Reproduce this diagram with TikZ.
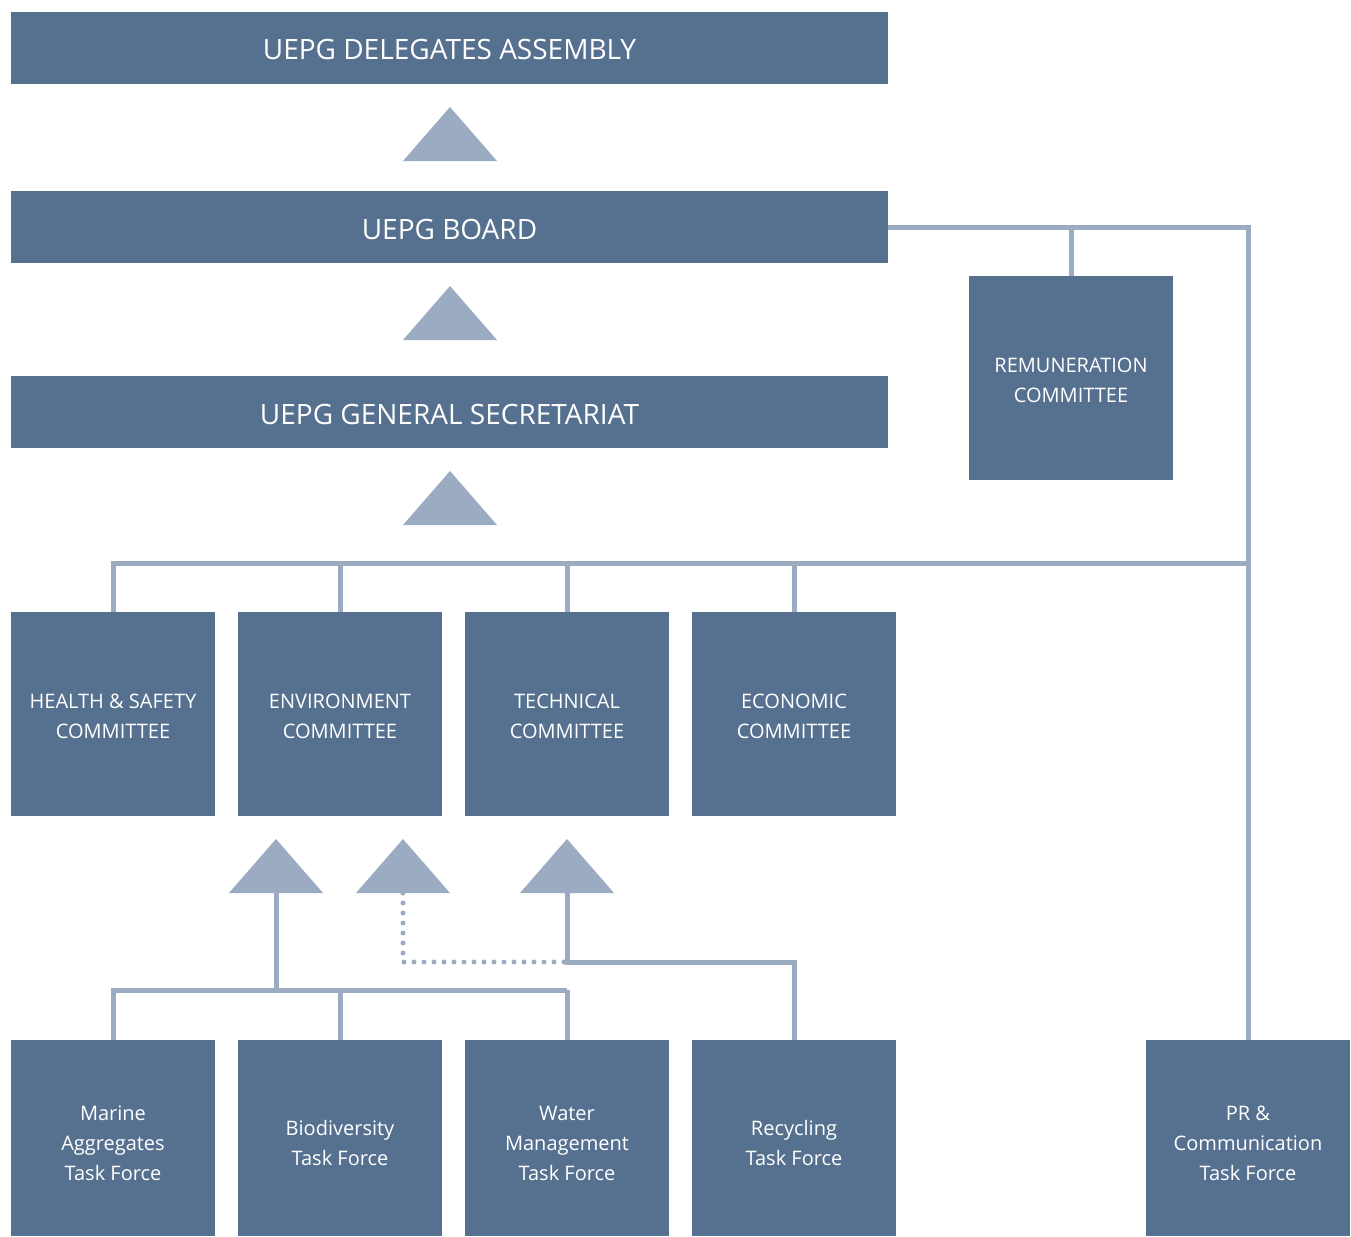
\documentclass[tikz,border=0pt]{standalone}
\usepackage{fontspec}
\setmainfont{Open Sans}
\usetikzlibrary{positioning}
\definecolor{boxblue}{HTML}{56718F}
\definecolor{linkblue}{HTML}{9BACC2}
\tikzset{
  bar/.style={fill=boxblue, text=white, minimum width=877pt, minimum height=72pt, inner sep=0pt,
    text height=24pt, text depth=0pt, font=\fontsize{28}{32}\selectfont},
  unit/.style={fill=boxblue, minimum width=204pt, minimum height=204pt, inner sep=0pt},
  task/.style={unit, minimum height=196pt},
  caption/.style={text=white, align=center, inner sep=0pt, font=\fontsize{20}{30}\selectfont},
  unitcap/.style={caption, yshift=-2pt},
  taskcap/.style={caption, yshift=-5pt},
  link/.style={draw=linkblue, line width=5pt},
  dots/.style={draw=linkblue, line width=5pt, line cap=round, dash pattern=on 0pt off 10pt},
  tri/.style={fill=linkblue}
}
% triangle pointing up: name, apex x, apex y
\newcommand{\uptri}[3]{%
  \fill[tri] (#2-47,#3+54) -- (#2,#3) -- (#2+47,#3+54) -- cycle;
  \coordinate (#1) at (#2,#3+54);}
\begin{document}
\begin{tikzpicture}[x=1pt, y=-1pt]
\useasboundingbox (0,0) rectangle (1351,1236);

% Top levels
\node[bar] (assembly) at (449.5,48) {UEPG DELEGATES ASSEMBLY};
\node[bar] (board) at (449.5,227) {UEPG BOARD};
\node[bar] (secretariat) at (449.5,412) {UEPG GENERAL SECRETARIAT};

\uptri{tria}{450}{107}
\uptri{trib}{450}{286}
\uptri{tric}{450}{471}

% Remuneration
\node[unit, label={[unitcap]center:{REMUNERATION\\COMMITTEE}}] (remun) at (1071,378) {};

% Committees
\node[unit, label={[unitcap]center:{HEALTH \& SAFETY\\COMMITTEE}}] (hs) at (113,714) {};
\node[unit, label={[unitcap]center:{ENVIRONMENT\\COMMITTEE}}] (env) at (340,714) {};
\node[unit, label={[unitcap]center:{TECHNICAL\\COMMITTEE}}] (tech) at (567,714) {};
\node[unit, label={[unitcap]center:{ECONOMIC\\COMMITTEE}}] (econ) at (794,714) {};

% Task forces
\node[task, label={[taskcap]center:{Marine\\Aggregates\\Task Force}}] (marine) at (113,1138) {};
\node[task, label={[taskcap]center:{Biodiversity\\Task Force}}] (bio) at (340,1138) {};
\node[task, label={[taskcap]center:{Water\\Management\\Task Force}}] (water) at (567,1138) {};
\node[task, label={[taskcap]center:{Recycling\\Task Force}}] (recyc) at (794,1138) {};
\node[task, label={[taskcap]center:{PR \&\\Communication\\Task Force}}] (pr) at (1248,1138) {};

\uptri{trd}{276}{839}
\uptri{tre}{403}{839}
\uptri{trf}{567}{839}

% Board links
\draw[link] (board.east) -| (pr.north);
\draw[link] (remun.north) -- (remun.north |- board.east);

% Committee bus
\coordinate (cbus) at (0,563);
\draw[link] (hs.north) |- (pr.north |- cbus);
\foreach \c in {env,tech,econ}
  \draw[link] (\c.north) -- (\c.north |- cbus);

% Task force bus
\coordinate (tbus) at (0,990);
\coordinate (rbus) at (0,962);
\draw[link] (trd) -- (trd |- tbus);
\draw[link] (marine.north) |- (water.north |- tbus);
\draw[link] (bio.north) -- (bio.north |- tbus);
\draw[link] (water.north) -- (water.north |- tbus);
\draw[dots] (tre) |- (trf |- rbus);
\draw[link] (trf) -- (trf |- rbus) -| (recyc.north);

\end{tikzpicture}
\end{document}
